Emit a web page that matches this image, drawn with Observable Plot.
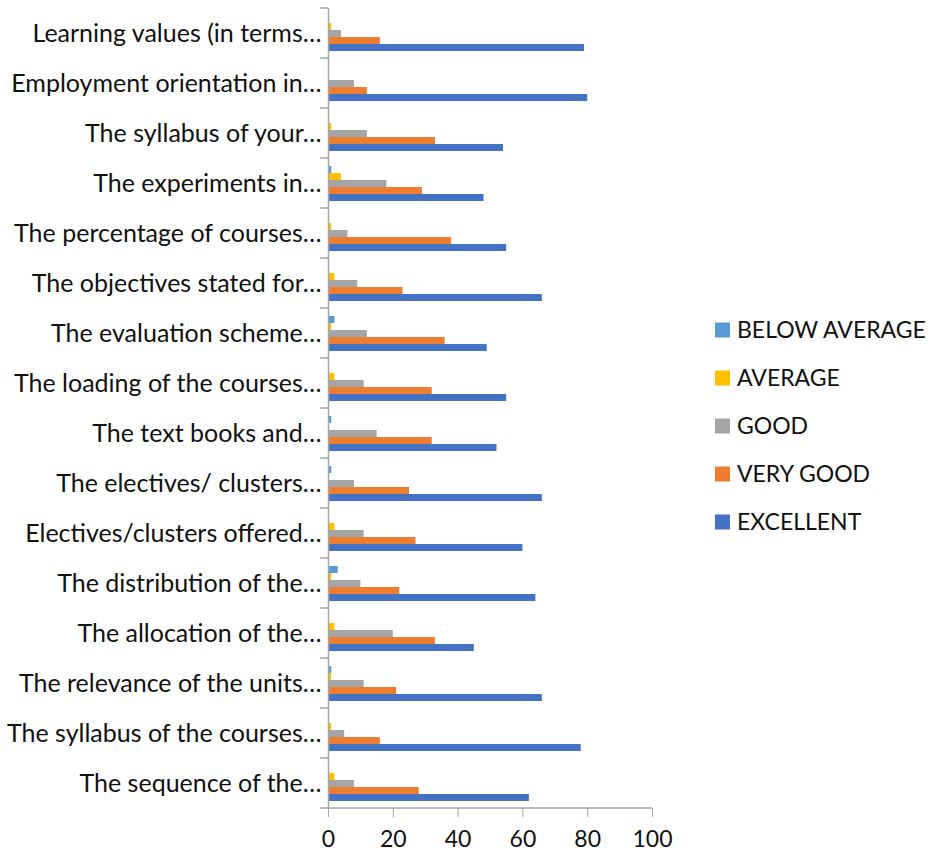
<!DOCTYPE html>
<html>
<head>
<meta charset="utf-8">
<script src="https://cdn.jsdelivr.net/npm/d3@7"></script>
<script src="https://cdn.jsdelivr.net/npm/@observablehq/plot@0.6"></script>
<style>
  html, body { margin: 0; padding: 0; background: #fff; }
  svg { display: block; }
</style>
</head>
<body>
<div id="chart"></div>
<script>
const categories = [
  "Learning values (in terms…",
  "Employment orientation in…",
  "The syllabus of your…",
  "The experiments in…",
  "The percentage of courses…",
  "The objectives stated for…",
  "The evaluation scheme…",
  "The loading of the courses…",
  "The text books and…",
  "The electives/ clusters…",
  "Electives/clusters offered…",
  "The distribution of the…",
  "The allocation of the…",
  "The relevance of the units…",
  "The syllabus of the courses…",
  "The sequence of the…"
];
const series = ["BELOW AVERAGE", "AVERAGE", "GOOD", "VERY GOOD", "EXCELLENT"];
const colors = ["#5B9BD5", "#FFC000", "#A5A5A5", "#ED7D31", "#4472C4"];
const belowAverage = [0, 0, 0, 1, 0, 0, 2, 0, 1, 1, 0, 3, 0, 1, 0, 0];
const average      = [1, 0, 1, 4, 1, 2, 1, 2, 0, 0, 2, 1, 2, 1, 1, 2];
const good         = [4, 8, 12, 18, 6, 9, 12, 11, 15, 8, 11, 10, 20, 11, 5, 8];
const veryGood     = [16, 12, 33, 29, 38, 23, 36, 32, 32, 25, 27, 22, 33, 21, 16, 28];
const excellent    = [79, 80, 54, 48, 55, 66, 49, 55, 52, 66, 60, 64, 45, 66, 78, 62];
const xTicks = [0, 20, 40, 60, 80, 100];

const seriesValues = [belowAverage, average, good, veryGood, excellent];
const data = [];
categories.forEach((c, i) => {
  series.forEach((s, j) => {
    data.push({category: c, series: s, value: seriesValues[j][i]});
  });
});

const FONT = "Lato, 'Open Sans', sans-serif";
const AXIS = "#a6a6a6";

const chart = Plot.plot({
  width: 930,
  height: 857,
  marginLeft: 328,
  marginRight: 278,
  marginTop: 8,
  marginBottom: 49,
  style: {fontFamily: FONT, fontSize: "23px", background: "white", color: "#111"},
  x: {domain: [0, 100], label: null},
  y: {domain: series, paddingInner: 0, paddingOuter: 0.75, axis: null},
  fy: {domain: categories, padding: 0, label: null, axis: null},
  color: {domain: series, range: colors},
  marks: [
    Plot.barX(data.filter(d => d.value > 0), {x: "value", y: "series", fy: "category", fill: "series"}),
    Plot.ruleX([0], {stroke: AXIS, strokeWidth: 1.5}),
    Plot.axisX({ticks: xTicks, tickSize: 9, tickPadding: 13, stroke: AXIS, fill: "#111", label: null, fontSize: 23}),
    Plot.axisFy({anchor: "left", tickSize: 0, tickPadding: 7, fill: "#111", label: null, fontSize: 25})
  ]
});

const svg = d3.select(chart);
const fy = chart.scale("fy");
const x = chart.scale("x");
const x0 = x.apply(0);
const bottom = fy.apply(categories[categories.length - 1]) + fy.bandwidth;
const g = svg.append("g").attr("stroke", AXIS).attr("stroke-width", 1.5);
// band separators on the category axis
categories.forEach(c => {
  const yy = fy.apply(c);
  g.append("line").attr("x1", x0 - 8).attr("x2", x0).attr("y1", yy).attr("y2", yy);
});
g.append("line").attr("x1", x0 - 8).attr("x2", x0).attr("y1", bottom).attr("y2", bottom);
// value axis line
g.append("line").attr("x1", x0).attr("x2", x.apply(100)).attr("y1", bottom).attr("y2", bottom);

// legend
const color = chart.scale("color");
const lg = svg.append("g").attr("font-family", FONT).attr("font-size", 23).attr("text-anchor", "start");
series.forEach((s, i) => {
  const yc = 330 + i * 48;
  lg.append("rect").attr("x", 715).attr("y", yc - 7.5).attr("width", 15).attr("height", 15).attr("fill", color.apply(s));
  lg.append("text").attr("x", 737).attr("y", yc).attr("dy", "0.35em").attr("fill", "#111").text(s);
});

document.getElementById("chart").appendChild(chart);
</script>
</body>
</html>
